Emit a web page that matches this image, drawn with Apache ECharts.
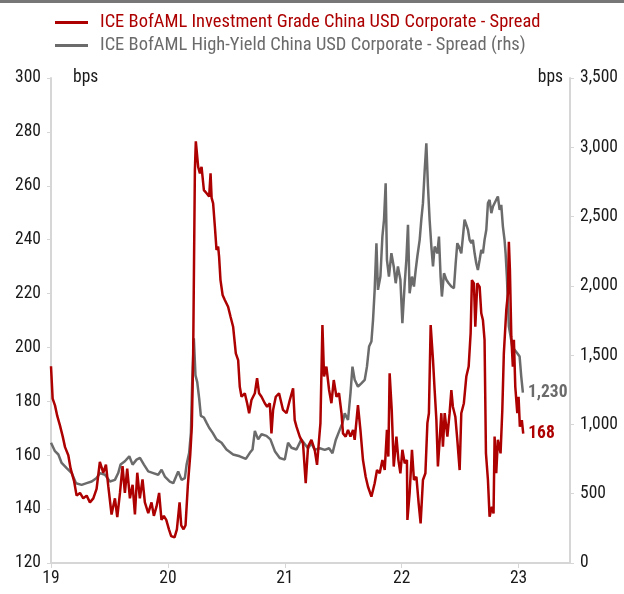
<!DOCTYPE html>
<html>
<head>
<meta charset="utf-8">
<script src="https://cdn.jsdelivr.net/npm/echarts@6/dist/echarts.min.js"></script>
<style>
  html, body { margin: 0; padding: 0; background: #fff; }
  #chart { width: 624px; height: 594px; }
</style>
</head>
<body>
<div id="chart"></div>
<script>
// IG spread (lhs, bps) - x is year, 19 = Jan 2019
var igYears = [19.000, 19.014, 19.034, 19.054, 19.077, 19.100, 19.120, 19.148, 19.168, 19.197,
    19.219, 19.248, 19.276, 19.305, 19.333, 19.362, 19.390, 19.418, 19.447, 19.470,
    19.490, 19.518, 19.547, 19.567, 19.590, 19.612, 19.632, 19.652, 19.675, 19.698,
    19.718, 19.738, 19.760, 19.783, 19.803, 19.832, 19.860, 19.880, 19.903, 19.925,
    19.945, 19.965, 19.986, 20.009, 20.028, 20.057, 20.077, 20.100, 20.114, 20.134,
    20.151, 20.171, 20.191, 20.205, 20.216, 20.231, 20.239, 20.259, 20.274, 20.288,
    20.308, 20.331, 20.353, 20.365, 20.374, 20.387, 20.402, 20.416, 20.430, 20.438,
    20.450, 20.468, 20.487, 20.515, 20.536, 20.558, 20.581, 20.601, 20.615, 20.630,
    20.658, 20.678, 20.695, 20.715, 20.744, 20.763, 20.780, 20.801, 20.829, 20.849,
    20.872, 20.886, 20.900, 20.923, 20.951, 20.985, 21.015, 21.043, 21.071, 21.085,
    21.100, 21.128, 21.156, 21.179, 21.199, 21.228, 21.256, 21.276, 21.293, 21.305,
    21.322, 21.336, 21.356, 21.379, 21.399, 21.419, 21.442, 21.464, 21.485, 21.498,
    21.521, 21.541, 21.562, 21.584, 21.598, 21.626, 21.647, 21.669, 21.692, 21.712,
    21.741, 21.769, 21.789, 21.812, 21.835, 21.855, 21.874, 21.886, 21.897, 21.915,
    21.932, 21.955, 21.972, 21.989, 22.006, 22.026, 22.045, 22.049, 22.068, 22.088,
    22.105, 22.126, 22.145, 22.162, 22.182, 22.203, 22.220, 22.233, 22.248, 22.268,
    22.282, 22.297, 22.310, 22.325, 22.339, 22.353, 22.368, 22.391, 22.410, 22.425,
    22.438, 22.459, 22.476, 22.496, 22.510, 22.532, 22.553, 22.573, 22.590, 22.601,
    22.618, 22.630, 22.647, 22.667, 22.681, 22.695, 22.709, 22.721, 22.738, 22.752,
    22.772, 22.786, 22.795, 22.809, 22.823, 22.846, 22.861, 22.874, 22.895, 22.909,
    22.917, 22.926, 22.938, 22.951, 22.960, 22.972, 22.989, 23.000, 23.011, 23.028,
    23.040];
var igSpread = [193, 181, 178.5, 174.5, 171, 167, 163, 160, 155, 150.5,
    145, 146, 144, 145, 142.5, 144, 147.5, 157.5, 153.5, 156.5,
    148.5, 138, 144, 137, 146, 156, 146, 155, 144, 149,
    138, 153.5, 144, 151, 142.5, 138.5, 142.5, 137.5, 141, 146,
    136, 137.5, 136, 132.5, 130, 129.5, 132.5, 142.5, 134, 132.5,
    134, 149, 160, 171, 196, 266, 276.5, 267, 264.6, 267,
    258.4, 257.2, 256, 264.6, 255.5, 253.5, 244.8, 236.2, 237.4, 233.7,
    225, 219.5, 217.6, 215.1, 211.4, 207.7, 197.8, 195.3, 185.4, 181.7,
    183, 179.3, 175.6, 180.5, 183, 188.6, 183, 181.7, 179.3, 178,
    179.3, 168.1, 176.8, 181.7, 183, 176.8, 175.6, 180.5, 184.8, 173,
    170.6, 166.9, 164.4, 149.6, 163.2, 165.7, 162, 156.4, 165.7, 171.9,
    208.3, 189.2, 192.9, 184.2, 179.3, 187.9, 181.7, 183, 175.6, 168.1,
    166.9, 169.4, 166.9, 169.4, 165.7, 178.6, 169.4, 158.2, 152, 148.3,
    144.6, 149.6, 154.5, 153.3, 158.2, 154.5, 169.4, 159.5, 190.4, 176.8,
    155.8, 166.9, 158.2, 153.3, 162, 157, 158.2, 136, 145.9, 162,
    150.8, 152, 142.2, 134.7, 150.8, 153.3, 171.9, 175.6, 208.3, 195.3,
    184.2, 173, 155.8, 165.7, 175.6, 163.2, 175.6, 166.9, 175.6, 184.2,
    178, 174.3, 165.7, 154.5, 175.6, 179.3, 189.2, 192.9, 205.3, 225,
    223.8, 207.7, 223.8, 222.5, 212.7, 210.2, 202.8, 160.7, 150.8, 137.2,
    140.9, 138.4, 166.9, 153.3, 165.7, 160.7, 176.8, 197.8, 213.9, 220.1,
    239.2, 228.7, 204, 192.9, 202.8, 185.4, 175.6, 181.7, 170.6, 173,
    168];

// HY spread (rhs, bps)
var hyYears = [19.000, 19.034, 19.063, 19.091, 19.134, 19.177, 19.214, 19.262, 19.305, 19.348,
    19.390, 19.419, 19.462, 19.504, 19.547, 19.575, 19.595, 19.632, 19.670, 19.698,
    19.732, 19.761, 19.795, 19.832, 19.875, 19.917, 19.946, 19.974, 20.017, 20.046,
    20.088, 20.117, 20.145, 20.160, 20.182, 20.197, 20.208, 20.222, 20.236, 20.251,
    20.268, 20.282, 20.308, 20.330, 20.353, 20.382, 20.416, 20.459, 20.501, 20.558,
    20.615, 20.667, 20.701, 20.724, 20.744, 20.772, 20.801, 20.843, 20.877, 20.915,
    20.957, 21.000, 21.028, 21.057, 21.100, 21.142, 21.185, 21.199, 21.228, 21.256,
    21.299, 21.342, 21.379, 21.408, 21.436, 21.464, 21.493, 21.513, 21.541, 21.562,
    21.579, 21.598, 21.626, 21.655, 21.684, 21.703, 21.721, 21.741, 21.755, 21.769,
    21.784, 21.797, 21.818, 21.835, 21.849, 21.863, 21.874, 21.891, 21.912, 21.932,
    21.949, 21.968, 21.989, 22.006, 22.026, 22.040, 22.054, 22.068, 22.088, 22.105,
    22.120, 22.134, 22.154, 22.168, 22.182, 22.197, 22.211, 22.225, 22.239, 22.254,
    22.268, 22.282, 22.305, 22.319, 22.333, 22.344, 22.362, 22.382, 22.402, 22.425,
    22.447, 22.462, 22.476, 22.490, 22.510, 22.524, 22.538, 22.553, 22.567, 22.581,
    22.596, 22.609, 22.624, 22.638, 22.652, 22.667, 22.681, 22.695, 22.709, 22.724,
    22.738, 22.752, 22.767, 22.781, 22.795, 22.809, 22.823, 22.838, 22.852, 22.866,
    22.880, 22.889, 22.900, 22.909, 22.917, 22.932, 22.946, 22.966, 22.989, 23.009,
    23.023, 23.037];
var hySpread = [868, 807, 783, 722, 685, 649, 576, 564, 576, 588,
    613, 649, 637, 588, 600, 649, 710, 734, 770, 710,
    746, 758, 710, 661, 649, 637, 673, 624, 588, 576,
    661, 600, 613, 710, 795, 941, 1305, 1621, 1354, 1305,
    1184, 1062, 1050, 1013, 976, 941, 892, 868, 819, 783,
    770, 751, 795, 819, 953, 892, 929, 917, 892, 807,
    758, 746, 868, 832, 819, 892, 843, 828, 864, 816,
    828, 816, 828, 792, 888, 948, 1008, 1080, 1032, 1225,
    1417, 1322, 1273, 1297, 1322, 1417, 1562, 1598, 1755, 1971,
    2308, 1971, 2067, 2356, 2478, 2740, 2188, 2067, 2236, 2140,
    2019, 2140, 2044, 1731, 2019, 2188, 2440, 1947, 2067, 1995,
    2115, 2212, 2332, 2478, 2597, 2836, 3029, 2716, 2478, 2284,
    2140, 2284, 2235, 2356, 2067, 1923, 2091, 2044, 2019, 1995,
    1983, 2163, 2308, 2284, 2235, 2356, 2478, 2490, 2405, 2332,
    2308, 2332, 2235, 2163, 2115, 2188, 2260, 2235, 2332, 2405,
    2597, 2621, 2525, 2573, 2573, 2621, 2645, 2548, 2585, 2428,
    2332, 2235, 2067, 1875, 1707, 1634, 1562, 1538, 1514, 1490,
    1345, 1230];

var xTicks = [19, 20, 21, 22, 23];
var igName = 'ICE BofAML Investment Grade China USD Corporate - Spread';
var hyName = 'ICE BofAML High-Yield China USD Corporate - Spread (rhs)';

var RED = '#ad0000';
var GREY = '#6b6b6b';
var FONT = '"Roboto Condensed", "Noto Sans Condensed", "Liberation Sans Narrow", "DejaVu Sans Condensed", sans-serif';
var AXIS = '#d6d6d6';

function pairs(xs, ys) {
    var out = [];
    for (var i = 0; i < xs.length; i++) out.push([xs[i], ys[i]]);
    return out;
}

function comma(v) {
    return String(v).replace(/\B(?=(\d{3})+(?!\d))/g, ',');
}

var myChart = echarts.init(document.getElementById('chart'), null, {renderer: 'canvas'});

var option = {
    animation: false,
    textStyle: {fontFamily: FONT},
    grid: {left: 51, right: 54, top: 78, bottom: 31, outerBoundsMode: 'none'},
    legend: {
        orient: 'vertical',
        left: 55,
        top: 13,
        padding: 0,
        itemWidth: 33,
        itemHeight: 3,
        itemGap: 4,
        icon: 'rect',
        textStyle: {fontSize: 18.5, fontFamily: FONT, padding: [0, 0, 0, 7]},
        data: [
            {name: igName, textStyle: {color: RED}},
            {name: hyName, textStyle: {color: GREY}}
        ]
    },
    xAxis: {
        type: 'value',
        min: 19,
        max: 23.44,
        interval: 1,
        splitLine: {show: false},
        axisLine: {lineStyle: {color: AXIS, width: 2}},
        axisTick: {length: 5, lineStyle: {color: AXIS, width: 1}},
        axisLabel: {
            color: '#1a1a1a', fontSize: 17.5, margin: 7, showMaxLabel: false,
            formatter: function (v) { return xTicks.indexOf(v) >= 0 ? String(v) : ''; }
        }
    },
    yAxis: [{
        type: 'value',
        min: 120,
        max: 300,
        interval: 20,
        splitLine: {show: false},
        axisLine: {show: true, lineStyle: {color: AXIS, width: 2}},
        axisTick: {show: true, length: 4, lineStyle: {color: AXIS}},
        axisLabel: {color: '#1a1a1a', fontSize: 17.5, margin: 10}
    }, {
        type: 'value',
        min: 0,
        max: 3500,
        interval: 500,
        position: 'right',
        splitLine: {show: false},
        axisLine: {show: true, lineStyle: {color: AXIS, width: 2}},
        axisTick: {show: true, length: 4, lineStyle: {color: AXIS}},
        axisLabel: {color: '#1a1a1a', fontSize: 17.5, margin: 10, formatter: comma}
    }],
    graphic: [
        {type: 'rect', left: 0, top: 0, shape: {width: 624, height: 3}, style: {fill: '#777777'}},
        {type: 'text', left: 73, top: 69, style: {text: 'bps', font: '17.5px ' + FONT, fill: '#1a1a1a'}},
        {type: 'text', right: 61, top: 69, style: {text: 'bps', font: '17.5px ' + FONT, fill: '#1a1a1a'}}
    ],
    series: [{
        name: hyName,
        type: 'line',
        yAxisIndex: 1,
        showSymbol: false,
        symbol: 'none',
        lineStyle: {color: GREY, width: 2.5},
        itemStyle: {color: GREY},
        data: pairs(hyYears, hySpread),
        endLabel: {
            show: true, distance: 5, color: GREY, fontWeight: 'bold', fontSize: 17.5,
            formatter: function (p) { return comma(p.value[1]); }
        }
    }, {
        name: igName,
        type: 'line',
        yAxisIndex: 0,
        showSymbol: false,
        symbol: 'none',
        lineStyle: {color: RED, width: 2.5},
        itemStyle: {color: RED},
        data: pairs(igYears, igSpread),
        endLabel: {
            show: true, distance: 5, color: RED, fontWeight: 'bold', fontSize: 17.5,
            formatter: function (p) { return String(p.value[1]); }
        }
    }]
};

myChart.setOption(option);
</script>
</body>
</html>
